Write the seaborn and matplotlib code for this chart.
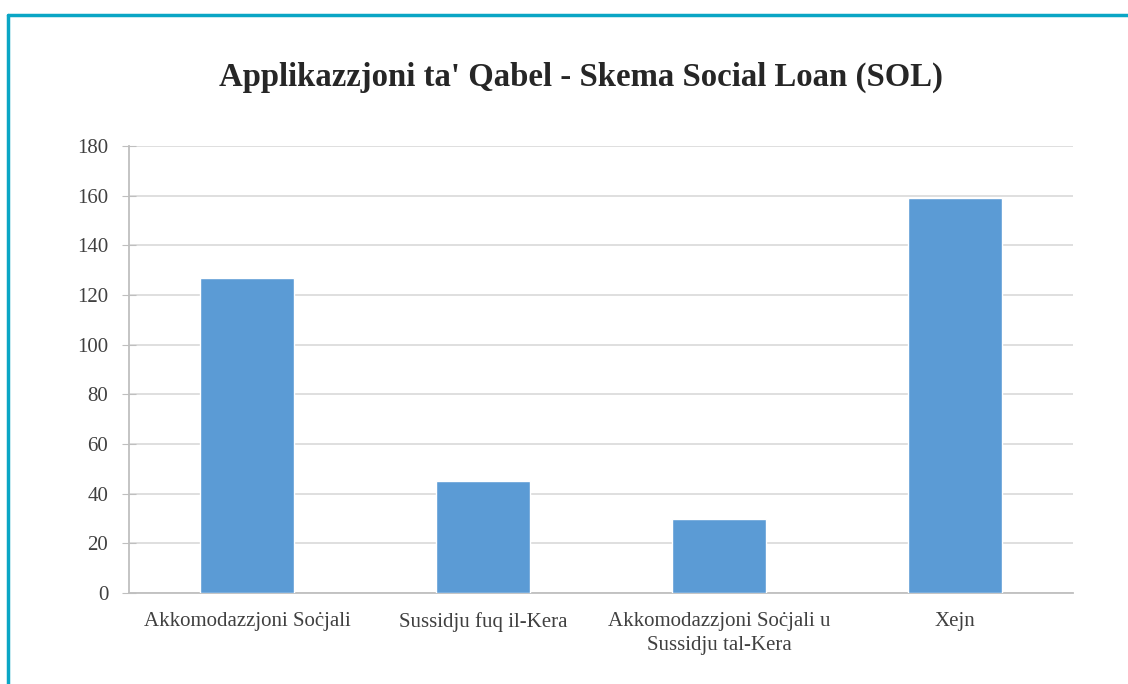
import matplotlib
matplotlib.use("Agg")
import matplotlib.pyplot as plt
import seaborn as sns
import pandas as pd

categories = ["Akkomodazzjoni Soċjali", "Sussidju fuq il-Kera",
              "Akkomodazzjoni Soċjali u\nSussidju tal-Kera", "Xejn"]
values = [127, 45, 30, 159]
yticks = [0, 20, 40, 60, 80, 100, 120, 140, 160, 180]
title = "Applikazzjoni ta' Qabel - Skema Social Loan (SOL)"

sns.set_style("white")
plt.rcParams["font.family"] = ["Liberation Serif", "DejaVu Serif"]

df = pd.DataFrame({"cat": categories, "val": values})

fig = plt.figure(figsize=(11.28, 6.84), dpi=100)
ax = fig.add_axes([129 / 1128, 1 - 593 / 684, (1073 - 129) / 1128, (593 - 146) / 684])

sns.barplot(data=df, x="cat", y="val", color="#5B9BD5", width=0.4,
            saturation=1, ax=ax, zorder=3)

ax.set_ylim(0, 180)
ax.set_yticks(yticks)
ax.set_xlim(-0.5, 3.5)
ax.set_xlabel("")
ax.set_ylabel("")
ax.yaxis.grid(True, color="#D9D9D9", linewidth=1.2, zorder=0)
ax.set_axisbelow(True)
for s in ["top", "right"]:
    ax.spines[s].set_visible(False)
for s in ["left", "bottom"]:
    ax.spines[s].set_color("#BFBFBF")
    ax.spines[s].set_linewidth(1.3)
ax.tick_params(axis="y", direction="inout", length=10, color="#BFBFBF",
               labelsize=15, labelcolor="#404040", left=True, pad=10)
ax.tick_params(axis="x", length=0, labelsize=15, labelcolor="#404040", pad=14)
for lab in ax.get_xticklabels():
    lab.set_linespacing(1.36)

fig.text(581 / 1128, 1 - 77 / 684, title, ha="center", va="center",
         fontsize=23.6, fontweight="bold", color="#262626")

# teal frame (top and left edges visible)
fig.add_artist(plt.Line2D([8 / 1128, 1], [1 - 15 / 684, 1 - 15 / 684],
                          color="#0AA6C5", linewidth=2.5))
fig.add_artist(plt.Line2D([8 / 1128, 8 / 1128], [0, 1 - 15 / 684],
                          color="#0AA6C5", linewidth=2.5))

fig.savefig("out.png", dpi=100)
